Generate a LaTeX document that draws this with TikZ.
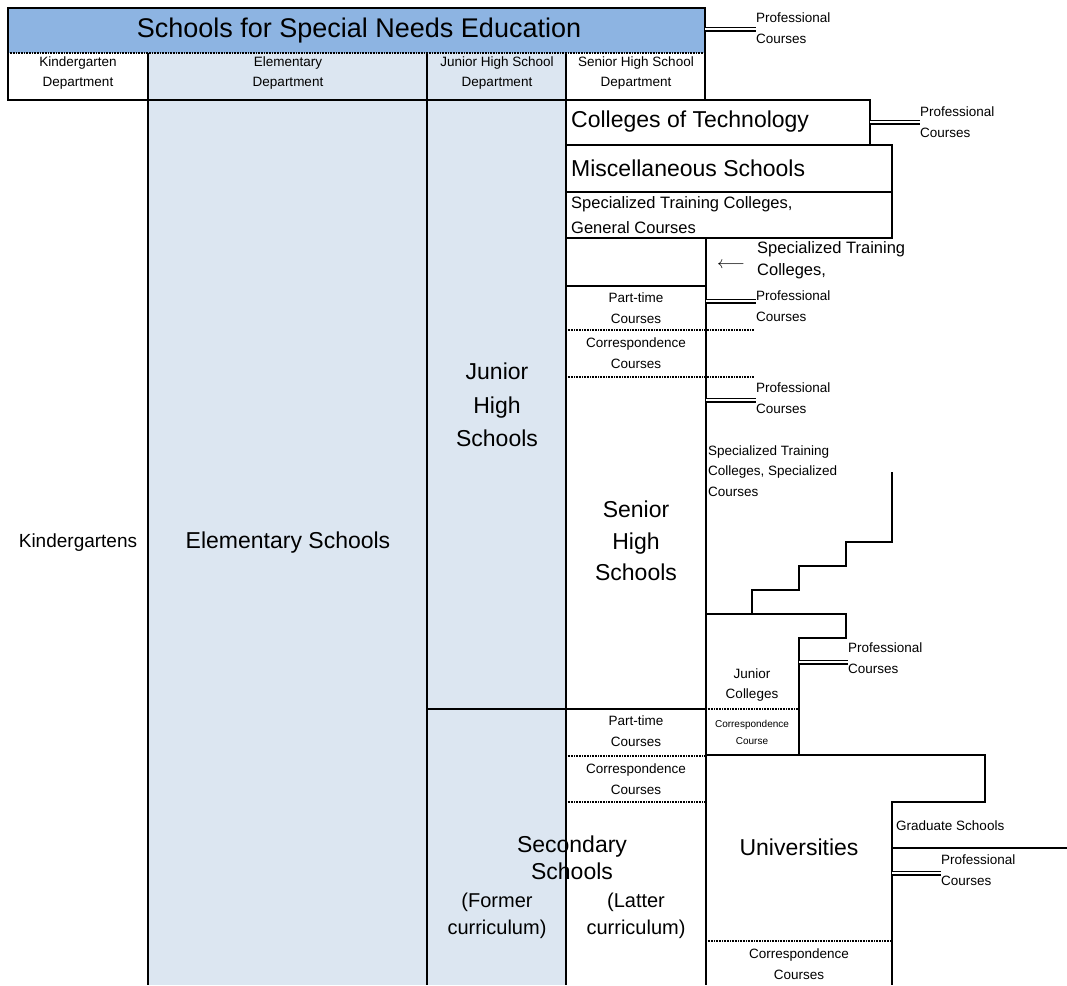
\documentclass[tikz,border=0pt]{standalone}
\usepackage{fontspec}
\setmainfont{Liberation Sans}
\definecolor{topblue}{RGB}{141,180,226}
\definecolor{lightblue}{RGB}{220,230,241}
\begin{document}
\begin{tikzpicture}[x=1pt,y=-1pt,
  thk/.style={line width=2.8pt, line join=miter},
  thn/.style={line width=2pt},
  dotl/.style={line width=2.2pt, dash pattern=on 1pt off 0.6pt},
  dbl/.style={double, double distance=2pt, line width=1.5pt},
  lbl/.style={inner sep=0pt, align=center},
  lbll/.style={inner sep=0pt, align=left, anchor=west},
  tinyf/.style={font=\fontsize{10}{17}\selectfont},
  smf/.style={font=\fontsize{13.5}{20.5}\selectfont},
  mdf/.style={font=\fontsize{16.5}{23}\selectfont},
  bigf/.style={font=\fontsize{23}{32}\selectfont},
  curf/.style={font=\fontsize{20}{27}\selectfont}
]
\useasboundingbox (0,0) rectangle (1067,985);
% fills
\fill[topblue] (8,8) rectangle (705,53);
\fill[lightblue] (148,53) rectangle (566,985);
% frame lines
\draw[thk] (8,53) -- (8,8) -- (705,8) -- (705,100);
\draw[dotl] (8,53) -- (705,53);
\draw[thk] (8,53) -- (8,100) -- (870,100) -- (870,145) -- (566,145);
\draw[thk] (148,53) -- (148,985);
\draw[thk] (427,53) -- (427,985);
\draw[thk] (566,53) -- (566,985);
\draw[thk] (566,145) -- (892,145) -- (892,238) -- (566,238);
\draw[thn] (566,192) -- (892,192);
\draw[thk] (706,238) -- (706,985);
\draw[thk] (566,286) -- (706,286);
\draw[dotl] (566,330) -- (754,330);
\draw[dotl] (566,377) -- (754,377);
\draw[thk] (706,614) -- (846,614) -- (846,638) -- (799,638) -- (799,755);
\draw[thk] (752,614) -- (752,590) -- (799,590) -- (799,566) -- (846,566) -- (846,542) -- (892,542) -- (892,472);
\draw[thk] (427,709) -- (706,709);
\draw[dotl] (706,709) -- (799,709);
\draw[dotl] (566,756) -- (706,756);
\draw[dotl] (566,802) -- (706,802);
\draw[thk] (706,755) -- (985,755) -- (985,802) -- (892,802) -- (892,985);
\draw[thk] (892,848) -- (1067,848);
\draw[dotl] (706,941) -- (892,941);

% header texts
\node[lbl, font=\fontsize{27}{30}\selectfont] (title) at (359,31) {Schools for Special Needs Education};
\node[lbl, smf] (kdep) at (78,73) {Kindergarten\\Department};
\node[lbl, smf] (edep) at (288,73) {Elementary\\Department};
\node[lbl, smf] (jdep) at (497,73) {Junior High School\\Department};
\node[lbl, smf] (sdep) at (636,73) {Senior High School\\Department};
\node[lbll, smf] (pc1) at (756,28) {Professional\\Courses};
\coordinate (t1) at (705,29);
\draw[dbl] (t1) -- (t1 -| pc1.west);

% colleges etc.
\node[lbll, bigf] (cot) at (571,122) {Colleges of Technology};
\node[lbll, smf] (pc2) at (920,122) {Professional\\Courses};
\coordinate (t2) at (870,122);
\draw[dbl] (t2) -- (t2 -| pc2.west);
\node[lbll, bigf] (misc) at (571,168) {Miscellaneous Schools};
\node[lbll, mdf, font=\fontsize{16.5}{25}\selectfont] (stcg) at (571,215) {Specialized Training Colleges,\\General Courses};
\node[lbl, font=\fontsize{17}{20}\selectfont] (arr) at (731,265) {$\longleftarrow$};
\node[lbll, mdf, font=\fontsize{16.5}{22}\selectfont] (stcp) at (757,260) {Specialized Training\\Colleges,};

% senior high part-time etc
\node[lbl, smf] (pt1) at (636,308) {Part-time\\Courses};
\node[lbll, smf] (pc3) at (756,306) {Professional\\Courses};
\coordinate (t3) at (706,301);
\draw[dbl] (t3) -- (t3 -| pc3.west);
\node[lbl, smf] (cc1) at (636,353) {Correspondence\\Courses};
\node[lbll, smf] (pc4) at (756,398) {Professional\\Courses};
\coordinate (t4) at (706,400);
\draw[dbl] (t4) -- (t4 -| pc4.west);
\node[lbll, smf] (stcs) at (708,471) {Specialized Training\\Colleges, Specialized\\Courses};

\node[lbl, bigf, font=\fontsize{23}{33.5}\selectfont] (jhs) at (497,405) {Junior\\High\\Schools};
\node[lbl, bigf, font=\fontsize{23}{31.5}\selectfont] (shs) at (636,541) {Senior\\High\\Schools};
\node[lbl, bigf] (elem) at (288,543) {Elementary Schools};
\node[lbl, font=\fontsize{19}{22}\selectfont] (kind) at (78,543) {Kindergartens};

% junior colleges
\node[lbl, smf] (jc) at (752,685) {Junior\\Colleges};
\node[lbll, smf] (pc5) at (848,658) {Professional\\Courses};
\coordinate (t5) at (799,662);
\draw[dbl] (t5) -- (t5 -| pc5.west);
\node[lbl, tinyf] (jcc) at (752,732) {Correspondence\\Course};

% secondary
\node[lbl, smf] (pt2) at (636,731) {Part-time\\Courses};
\node[lbl, smf] (cc2) at (636,779) {Correspondence\\Courses};
\node[lbl, bigf, font=\fontsize{23}{27}\selectfont] (sec) at (572,858) {Secondary\\Schools};
\node[lbl, curf] (former) at (497,916) {(Former\\curriculum)};
\node[lbl, curf] (latter) at (636,916) {(Latter\\curriculum)};

% universities
\node[lbl, bigf] (univ) at (799,847) {Universities};
\node[lbll, smf] (grad) at (896,826) {Graduate Schools};
\node[lbll, smf] (pc6) at (941,870) {Professional\\Courses};
\coordinate (t6) at (892,873);
\draw[dbl] (t6) -- (t6 -| pc6.west);
\node[lbl, smf] (cc3) at (799,964) {Correspondence\\Courses};
\end{tikzpicture}
\end{document}
